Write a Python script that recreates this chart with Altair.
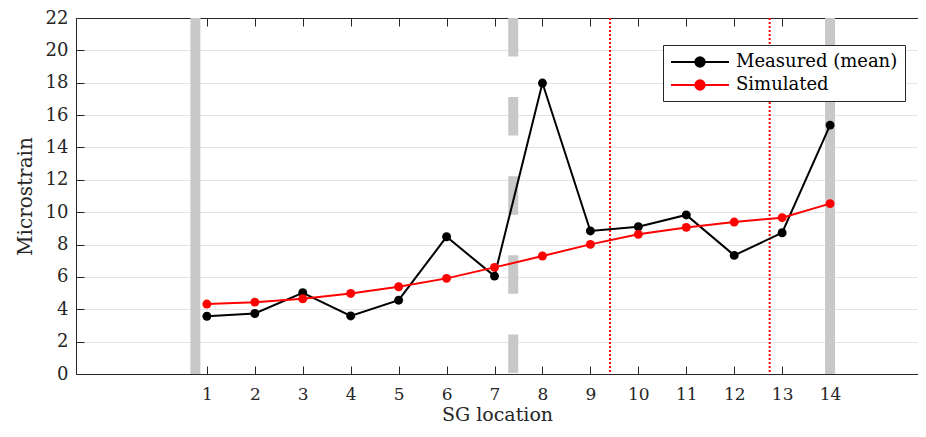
import altair as alt
import pandas as pd

# ---------------- data ----------------
locations = list(range(1, 15))
measured = [3.57, 3.74, 5.02, 3.59, 4.56, 8.48, 6.05, 17.98, 8.84, 9.10, 9.83, 7.33, 8.73, 15.38]
simulated = [4.32, 4.44, 4.65, 4.98, 5.39, 5.91, 6.59, 7.29, 8.01, 8.63, 9.06, 9.39, 9.66, 10.53]
series_names = ["Measured (mean)", "Simulated"]
series_colors = ["#000000", "#ff0000"]
y_ticks = list(range(0, 23, 2))
gray_solid_x = [0.76, 14.0]
gray_dashed_x = [7.39]
red_dotted_x = [9.41, 12.74]

X_DOMAIN = [-1.73, 15.834]
Y_DOMAIN = [0, 22]
W, H = 842, 356
FONT = "DejaVu Serif"
INK = "#262626"
TICK = 8

df = pd.DataFrame({
    "loc": locations * 2,
    "value": measured + simulated,
    "series": [s for s in series_names for _ in locations],
})

xs = alt.Scale(domain=X_DOMAIN, nice=False, zero=False)
ys = alt.Scale(domain=Y_DOMAIN, nice=False, zero=False)

# legend symbol: horizontal line with a dot in the middle (unit = 9 px)
L = 3.22
r = 0.52
legend_path = f"M-{L},0L{L},0M-{r},0A{r},{r},0,1,1,{r},0A{r},{r},0,1,1,-{r},0Z"

color = alt.Color(
    "series:N",
    scale=alt.Scale(domain=series_names, range=series_colors),
    legend=alt.Legend(
        title=None,
        orient="none",
        legendX=587,
        legendY=27,
        symbolType=legend_path,
        symbolSize=324,
        symbolStrokeWidth=2,
        symbolOffset=20,
        labelFont=FONT,
        labelFontSize=18,
        labelColor="#000000",
        labelOffset=26,
        labelLimit=400,
        rowPadding=4,
        padding=7,
        strokeColor=INK,
        fillColor="white",
    ),
)

base = alt.Chart(df)

# vertical reference bands / lines
solid_bands = alt.Chart(pd.DataFrame({"x": gray_solid_x})).mark_rule(
    color="#c8c8c8", strokeWidth=10
).encode(x=alt.X("x:Q", scale=xs, axis=None))

dashed_band = alt.Chart(pd.DataFrame({"x": gray_dashed_x})).mark_rule(
    color="#c8c8c8", strokeWidth=10, strokeDash=[38.5, 40.6]
).encode(x=alt.X("x:Q", scale=xs, axis=None))

red_lines = alt.Chart(pd.DataFrame({"x": red_dotted_x})).mark_rule(
    color="#ff0000", strokeWidth=2, strokeDash=[2, 2]
).encode(x=alt.X("x:Q", scale=xs, axis=None))

# main axes (labels, titles, grid, bottom/left border)
main_axes = base.mark_point(opacity=0).encode(
    x=alt.X(
        "loc:Q",
        scale=xs,
        axis=alt.Axis(
            orient="bottom", values=locations, domain=True, ticks=False, tickSize=0,
            grid=False, labelFontSize=17, labelPadding=12, labelFlush=False,
            title="SG location", titleFontSize=19, titlePadding=3,
        ),
    ),
    y=alt.Y(
        "value:Q",
        scale=ys,
        axis=alt.Axis(
            orient="left", values=y_ticks, domain=True, ticks=False, tickSize=0,
            grid=True, labelFontSize=18, labelPadding=8, labelFlush=False,
            title="Microstrain", titleFontSize=20, titlePadding=10,
        ),
    ),
)

# inward ticks bottom / left
ticks_bl = base.mark_point(opacity=0).encode(
    x=alt.X("loc:Q", scale=xs, axis=alt.Axis(
        orient="bottom", values=locations, domain=False, labels=False, grid=False,
        ticks=True, tickSize=TICK, offset=-TICK, title=None)),
    y=alt.Y("value:Q", scale=ys, axis=alt.Axis(
        orient="left", values=y_ticks, domain=False, labels=False, grid=False,
        ticks=True, tickSize=TICK, offset=-TICK, title=None)),
)

# inward ticks top + top border
ticks_top = base.mark_point(opacity=0).encode(
    x=alt.X("loc:Q", scale=xs, axis=alt.Axis(
        orient="top", values=locations, domain=False, labels=False, grid=False,
        ticks=True, tickSize=TICK, offset=-TICK, title=None)),
    y=alt.Y("value:Q", scale=ys, axis=None),
)
top_border = base.mark_point(opacity=0).encode(
    x=alt.X("loc:Q", scale=xs, axis=alt.Axis(
        orient="top", domain=True, labels=False, grid=False,
        ticks=False, tickSize=0, title=None)),
    y=alt.Y("value:Q", scale=ys, axis=None),
)

series = base.mark_line(
    strokeWidth=2,
    point=alt.OverlayMarkDef(filled=True, size=80, opacity=1),
).encode(
    x=alt.X("loc:Q", scale=xs, axis=None),
    y=alt.Y("value:Q", scale=ys, axis=None),
    color=color,
    order=alt.Order("loc:Q"),
)

chart = alt.layer(
    main_axes, ticks_bl, ticks_top, top_border,
    solid_bands, dashed_band, red_lines, series
).resolve_axis(
    x="independent", y="independent"
).properties(
    width=W,
    height=H,
    background="white",
    autosize=alt.AutoSizeParams(type="none"),
    padding={"left": 68, "top": 10, "right": 0, "bottom": 55},
).configure_view(
    strokeWidth=0
).configure_axis(
    labelFont=FONT, titleFont=FONT, labelColor=INK, titleColor=INK,
    titleFontWeight="normal", tickColor=INK, tickWidth=1,
    domainColor=INK, domainWidth=1,
    gridColor="#e3e3e3", gridWidth=1,
)

chart.save("out.html", embed_options={"renderer": "svg", "actions": False})
